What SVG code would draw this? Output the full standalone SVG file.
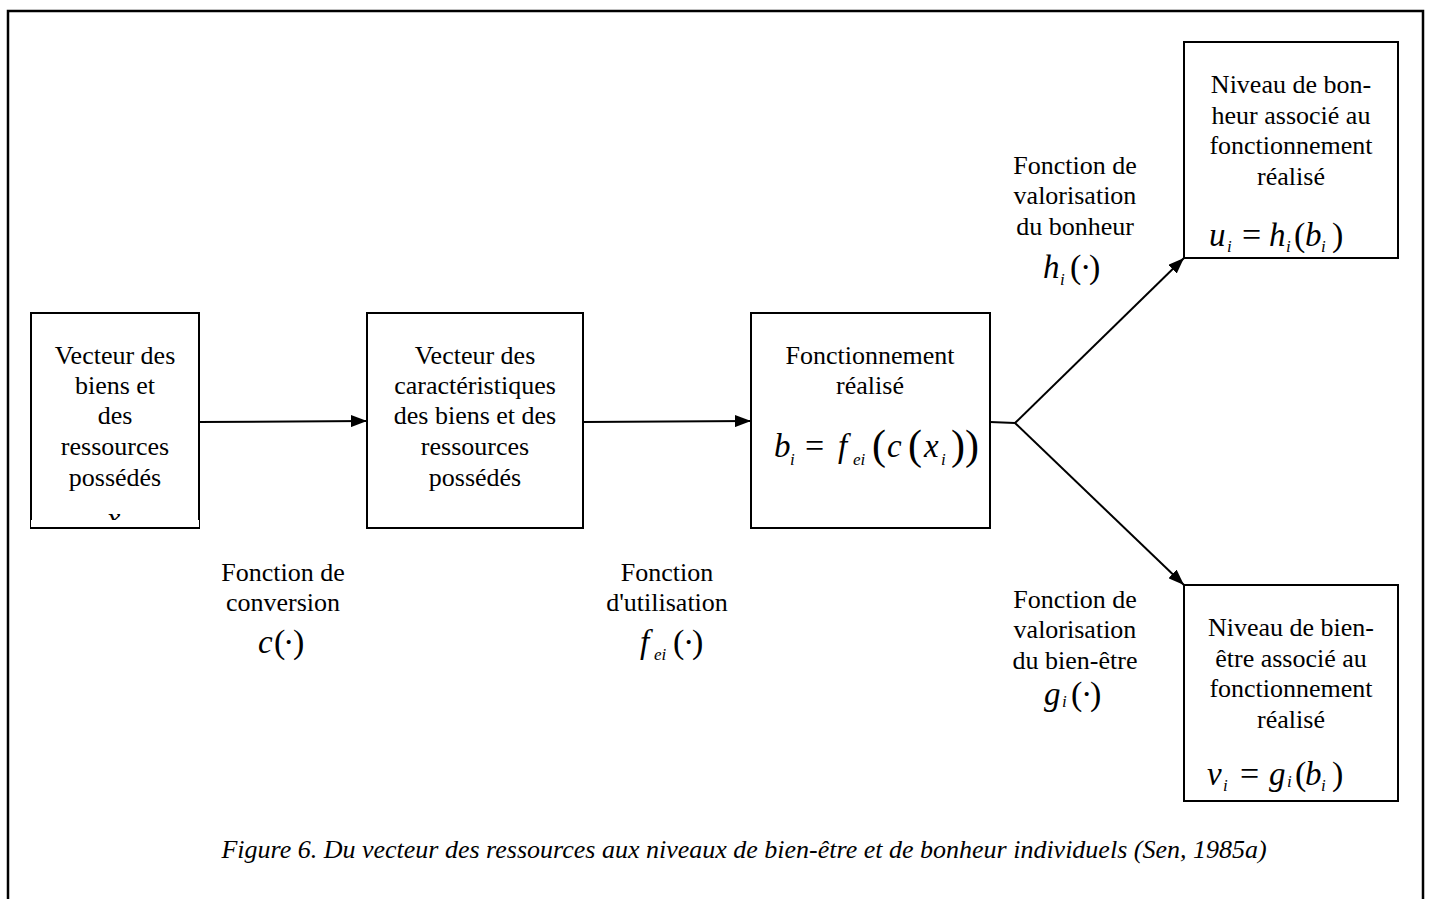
<svg xmlns="http://www.w3.org/2000/svg" width="1429" height="899" viewBox="0 0 1429 899">
<defs>
<marker id="ah" markerWidth="16" markerHeight="12" refX="16" refY="6" orient="auto" markerUnits="userSpaceOnUse">
<path d="M0,0 L16,6 L0,12 Z" fill="#000"/>
</marker>
</defs>
<rect width="1429" height="899" fill="#fff"/>
<path d="M8,899 V11 H1423 V899" fill="none" stroke="#000" stroke-width="2.5"/>
<g id="connectors" fill="none" stroke="#000" stroke-width="2">
<line x1="199" y1="422" x2="367" y2="421" marker-end="url(#ah)"/>
<line x1="583" y1="422" x2="751" y2="421" marker-end="url(#ah)"/>
<polyline points="990,422 1015,423"/>
<line x1="1015" y1="423" x2="1184" y2="258" marker-end="url(#ah)"/>
<line x1="1015" y1="423" x2="1184" y2="585" marker-end="url(#ah)"/>
</g>
<rect x="31" y="313" width="168" height="215" fill="#fff" stroke="#000" stroke-width="2"/>
<text font-family="Liberation Serif" font-size="26" text-anchor="middle" x="115" y="364">Vecteur des</text>
<text font-family="Liberation Serif" font-size="26" text-anchor="middle" x="115" y="394">biens  et</text>
<text font-family="Liberation Serif" font-size="26" text-anchor="middle" x="115" y="424">des</text>
<text font-family="Liberation Serif" font-size="26" text-anchor="middle" x="115" y="455">ressources</text>
<text font-family="Liberation Serif" font-size="26" text-anchor="middle" x="115" y="486">possédés</text>
<text font-family="Liberation Serif" font-size="30" font-style="italic" x="107" y="528">x</text>
<rect x="31" y="520" width="168" height="7" fill="#fff"/>
<g>
<rect x="367" y="313" width="216" height="215" fill="#fff" stroke="#000" stroke-width="2"/>
<text font-family="Liberation Serif" font-size="26" text-anchor="middle" x="475" y="364">Vecteur des</text>
<text font-family="Liberation Serif" font-size="26" text-anchor="middle" x="475" y="394">caractéristiques</text>
<text font-family="Liberation Serif" font-size="26" text-anchor="middle" x="475" y="424">des biens et des</text>
<text font-family="Liberation Serif" font-size="26" text-anchor="middle" x="475" y="455">ressources</text>
<text font-family="Liberation Serif" font-size="26" text-anchor="middle" x="475" y="486">possédés</text>
</g>
<g id="node3">
<rect x="751" y="313" width="239" height="215" fill="#fff" stroke="#000" stroke-width="2"/>
<text font-family="Liberation Serif" font-size="26" text-anchor="middle" x="870" y="364">Fonctionnement</text>
<text font-family="Liberation Serif" font-size="26" text-anchor="middle" x="870" y="394">réalisé</text>
<text font-family="Liberation Serif" font-size="33" font-style="italic" x="774" y="457">b</text>
<text font-family="Liberation Serif" font-size="17" font-style="italic" x="790" y="465">i</text>
<text font-family="Liberation Serif" font-size="34" x="805" y="457">=</text>
<text font-family="Liberation Serif" font-size="33" font-style="italic" x="838" y="457">f</text>
<text font-family="Liberation Serif" font-size="17" font-style="italic" x="853" y="465">ei</text>
<text font-family="Liberation Serif" font-size="42" x="872" y="459">(</text>
<text font-family="Liberation Serif" font-size="33" font-style="italic" x="887" y="457">c</text>
<text font-family="Liberation Serif" font-size="42" x="908" y="459">(</text>
<text font-family="Liberation Serif" font-size="33" font-style="italic" x="924" y="457">x</text>
<text font-family="Liberation Serif" font-size="17" font-style="italic" x="941" y="465">i</text>
<text font-family="Liberation Serif" font-size="42" x="951" y="459">))</text>
</g>
<g id="node4">
<rect x="1184" y="42" width="214" height="216" fill="#fff" stroke="#000" stroke-width="2"/>
<text font-family="Liberation Serif" font-size="26" text-anchor="middle" x="1291" y="93">Niveau de bon-</text>
<text font-family="Liberation Serif" font-size="26" text-anchor="middle" x="1291" y="124">heur associé au</text>
<text font-family="Liberation Serif" font-size="26" text-anchor="middle" x="1291" y="154">fonctionnement</text>
<text font-family="Liberation Serif" font-size="26" text-anchor="middle" x="1291" y="185">réalisé</text>
<text font-family="Liberation Serif" font-size="33" font-style="italic" x="1209" y="246">u</text>
<text font-family="Liberation Serif" font-size="17" font-style="italic" x="1227" y="252">i</text>
<text font-family="Liberation Serif" font-size="34" x="1242" y="246">=</text>
<text font-family="Liberation Serif" font-size="33" font-style="italic" x="1269" y="246">h</text>
<text font-family="Liberation Serif" font-size="17" font-style="italic" x="1286" y="252">i</text>
<text font-family="Liberation Serif" font-size="34" x="1294" y="246">(</text>
<text font-family="Liberation Serif" font-size="33" font-style="italic" x="1305" y="246">b</text>
<text font-family="Liberation Serif" font-size="17" font-style="italic" x="1321" y="252">i</text>
<text font-family="Liberation Serif" font-size="34" x="1332" y="246">)</text>
</g>
<g id="node5">
<rect x="1184" y="585" width="214" height="216" fill="#fff" stroke="#000" stroke-width="2"/>
<text font-family="Liberation Serif" font-size="26" text-anchor="middle" x="1291" y="636">Niveau de bien-</text>
<text font-family="Liberation Serif" font-size="26" text-anchor="middle" x="1291" y="667">être associé au</text>
<text font-family="Liberation Serif" font-size="26" text-anchor="middle" x="1291" y="697">fonctionnement</text>
<text font-family="Liberation Serif" font-size="26" text-anchor="middle" x="1291" y="728">réalisé</text>
<text font-family="Liberation Serif" font-size="33" font-style="italic" x="1207" y="785">v</text>
<text font-family="Liberation Serif" font-size="17" font-style="italic" x="1223" y="791">i</text>
<text font-family="Liberation Serif" font-size="34" x="1240" y="785">=</text>
<text font-family="Liberation Serif" font-size="33" font-style="italic" x="1269" y="785">g</text>
<text font-family="Liberation Serif" font-size="17" font-style="italic" x="1287" y="787">i</text>
<text font-family="Liberation Serif" font-size="34" x="1295" y="785">(</text>
<text font-family="Liberation Serif" font-size="33" font-style="italic" x="1305" y="785">b</text>
<text font-family="Liberation Serif" font-size="17" font-style="italic" x="1321" y="791">i</text>
<text font-family="Liberation Serif" font-size="34" x="1332" y="785">)</text>
</g>
<g id="label-conversion">
<text font-family="Liberation Serif" font-size="26" text-anchor="middle" x="283" y="581">Fonction de</text>
<text font-family="Liberation Serif" font-size="26" text-anchor="middle" x="283" y="611">conversion</text>
<text font-family="Liberation Serif" font-size="33" font-style="italic" x="258" y="653">c</text>
<text font-family="Liberation Serif" font-size="34" x="274" y="653">(</text>
<text font-family="Liberation Serif" font-size="34" x="283" y="653">·</text>
<text font-family="Liberation Serif" font-size="34" x="293" y="653">)</text>
</g>
<g id="label-utilisation">
<text font-family="Liberation Serif" font-size="26" text-anchor="middle" x="667" y="581">Fonction</text>
<text font-family="Liberation Serif" font-size="26" text-anchor="middle" x="667" y="611">d'utilisation</text>
<text font-family="Liberation Serif" font-size="33" font-style="italic" x="640" y="653">f</text>
<text font-family="Liberation Serif" font-size="17" font-style="italic" x="654" y="660">ei</text>
<text font-family="Liberation Serif" font-size="34" x="673" y="653">(</text>
<text font-family="Liberation Serif" font-size="34" x="683" y="653">·</text>
<text font-family="Liberation Serif" font-size="34" x="692" y="653">)</text>
</g>
<g id="label-bonheur">
<text font-family="Liberation Serif" font-size="26" text-anchor="middle" x="1075" y="174">Fonction de</text>
<text font-family="Liberation Serif" font-size="26" text-anchor="middle" x="1075" y="204">valorisation</text>
<text font-family="Liberation Serif" font-size="26" text-anchor="middle" x="1075" y="235">du bonheur</text>
<text font-family="Liberation Serif" font-size="33" font-style="italic" x="1043" y="278">h</text>
<text font-family="Liberation Serif" font-size="17" font-style="italic" x="1060" y="285">i</text>
<text font-family="Liberation Serif" font-size="34" x="1070" y="278">(</text>
<text font-family="Liberation Serif" font-size="34" x="1080" y="278">·</text>
<text font-family="Liberation Serif" font-size="34" x="1089" y="278">)</text>
</g>
<g id="label-bienetre">
<text font-family="Liberation Serif" font-size="26" text-anchor="middle" x="1075" y="608">Fonction de</text>
<text font-family="Liberation Serif" font-size="26" text-anchor="middle" x="1075" y="638">valorisation</text>
<text font-family="Liberation Serif" font-size="26" text-anchor="middle" x="1075" y="669">du bien-être</text>
<text font-family="Liberation Serif" font-size="33" font-style="italic" x="1044" y="705">g</text>
<text font-family="Liberation Serif" font-size="17" font-style="italic" x="1062" y="707">i</text>
<text font-family="Liberation Serif" font-size="34" x="1071" y="705">(</text>
<text font-family="Liberation Serif" font-size="34" x="1081" y="705">·</text>
<text font-family="Liberation Serif" font-size="34" x="1090" y="705">)</text>
</g>
<text font-family="Liberation Serif" font-size="26" font-style="italic" text-anchor="middle" x="744" y="858">Figure 6.   Du vecteur des ressources aux niveaux de bien-être et de bonheur individuels (Sen, 1985a)</text>
</svg>
